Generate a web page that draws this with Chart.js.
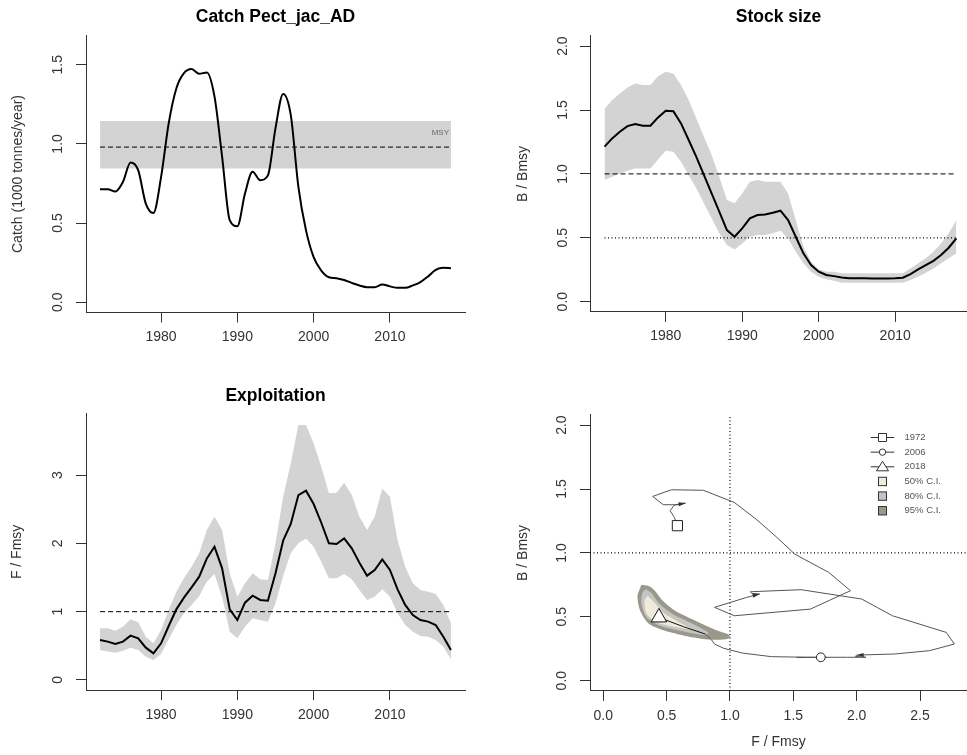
<!DOCTYPE html>
<html><head><meta charset="utf-8">
<script src="https://cdn.jsdelivr.net/npm/chart.js@4.4.1/dist/chart.umd.min.js"></script>
<style>
html,body{margin:0;padding:0;background:#fff;}
#wrap{position:relative;width:967px;height:755px;overflow:hidden;background:#fff;}
canvas{position:absolute;left:0;top:0;}
</style></head><body>
<div id="wrap">
<canvas id="c1" width="967" height="755"></canvas>
<canvas id="c2" width="967" height="755"></canvas>
<canvas id="c3" width="967" height="755"></canvas>
<canvas id="c4" width="967" height="755"></canvas>
</div>
<script>
// ---------------- data ----------------
const years = [1972,1973,1974,1975,1976,1977,1978,1979,1980,1981,
  1982,1983,1984,1985,1986,1987,1988,1989,1990,1991,
  1992,1993,1994,1995,1996,1997,1998,1999,2000,2001,
  2002,2003,2004,2005,2006,2007,2008,2009,2010,2011,
  2012,2013,2014,2015,2016,2017,2018];

const catchVals = [0.714,0.714,0.70,0.76,0.883,0.835,0.623,0.564,0.79,1.13,
  1.35,1.447,1.473,1.443,1.452,1.30,0.92,0.518,0.48,0.687,
  0.824,0.771,0.80,1.10,1.316,1.183,0.729,0.454,0.285,0.20,
  0.158,0.152,0.14,0.122,0.106,0.095,0.095,0.112,0.10,0.091,
  0.091,0.106,0.127,0.163,0.205,0.218,0.215];
const msyVal = 0.98, msyLow = 0.845, msyHigh = 1.145;
const msyYears = [1972, 2018];

const stockVals = [1.213,1.278,1.33,1.374,1.39,1.377,1.377,1.442,1.494,1.49,
  1.395,1.265,1.134,0.99,0.847,0.704,0.56,0.508,0.574,0.652,
  0.678,0.683,0.696,0.712,0.639,0.508,0.378,0.287,0.235,0.209,
  0.20,0.19,0.183,0.183,0.183,0.182,0.182,0.182,0.183,0.188,
  0.216,0.253,0.287,0.32,0.365,0.422,0.495];
const stockHigh = [1.51,1.578,1.63,1.677,1.708,1.695,1.695,1.765,1.80,1.786,
  1.695,1.578,1.434,1.29,1.147,0.978,0.795,0.77,0.847,0.939,
  0.952,0.939,0.939,0.939,0.847,0.639,0.43,0.313,0.253,0.235,
  0.235,0.222,0.222,0.222,0.222,0.222,0.222,0.222,0.222,0.222,
  0.26,0.30,0.339,0.39,0.456,0.535,0.639];
const stockLow = [0.952,0.978,1.004,1.025,1.043,1.043,1.043,1.113,1.181,1.173,
  1.095,0.99,0.887,0.769,0.652,0.535,0.443,0.409,0.456,0.508,
  0.521,0.521,0.535,0.555,0.495,0.391,0.30,0.235,0.196,0.175,
  0.164,0.149,0.149,0.149,0.149,0.149,0.149,0.149,0.149,0.149,
  0.17,0.196,0.227,0.26,0.30,0.339,0.378];

const fVals = [0.585,0.561,0.527,0.561,0.649,0.61,0.473,0.39,0.537,0.79,
  1.034,1.205,1.356,1.512,1.78,1.951,1.634,1.034,0.878,1.132,
  1.234,1.171,1.161,1.561,2.039,2.283,2.707,2.771,2.576,2.302,
  2.0,1.99,2.073,1.927,1.717,1.527,1.61,1.766,1.61,1.327,
  1.098,0.951,0.878,0.854,0.805,0.634,0.439];
const fHigh = [0.756,0.756,0.722,0.78,0.888,0.844,0.634,0.537,0.732,1.024,
  1.293,1.488,1.659,1.854,2.195,2.39,2.195,1.561,1.22,1.415,
  1.561,1.473,1.463,2.0,2.683,3.17,3.732,3.732,3.463,3.122,
  2.732,2.741,2.888,2.707,2.39,2.195,2.39,2.805,2.683,2.049,
  1.659,1.415,1.317,1.293,1.259,1.098,0.829];
const fLow = [0.439,0.415,0.4,0.429,0.473,0.439,0.341,0.293,0.38,0.595,
  0.805,0.976,1.098,1.229,1.439,1.551,1.22,0.707,0.61,0.78,
  0.902,0.878,0.854,1.122,1.522,1.854,2.0,2.073,1.951,1.732,
  1.488,1.488,1.551,1.473,1.317,1.171,1.22,1.327,1.22,0.976,
  0.805,0.707,0.644,0.634,0.585,0.488,0.302];

// Kobe plot confidence regions around the last year (F/Fmsy, B/Bmsy)
const ci95F = [0.30,0.36,0.41,0.47,0.57,0.73,0.90,0.99,1.0,0.97,0.82,0.66,0.48,0.36,0.29,0.27,0.30];
const ci95B = [0.75,0.74,0.70,0.625,0.545,0.468,0.392,0.36,0.34,0.325,0.322,0.347,0.392,0.445,0.55,0.66,0.75];
const ci80F = [0.335,0.38,0.445,0.55,0.685,0.83,0.80,0.61,0.45,0.34,0.30,0.31,0.335];
const ci80B = [0.715,0.685,0.60,0.52,0.455,0.375,0.355,0.39,0.43,0.497,0.605,0.69,0.715];
const ci50F = [0.35,0.40,0.47,0.58,0.69,0.56,0.42,0.34,0.325,0.35];
const ci50B = [0.665,0.615,0.535,0.468,0.405,0.422,0.46,0.525,0.63,0.665];

const yearTicks = [1980,1990,2000,2010];
const catchTicks = [0,0.5,1,1.5];
const bTicks = [0,0.5,1,1.5,2];
const fTicks = [0,1,2,3];
const kobeFTicks = [0,0.5,1,1.5,2,2.5];
const markerIdx = [0, 34, 46];           // 1972, 2006, 2018
const arrowIdx = [4, 20, 30];
const legendLabels = ['1972','2006','2018','50% C.I.','80% C.I.','95% C.I.'];

// ---------------- style ----------------
const FONT = '"Liberation Sans", Arial, sans-serif';
const AX = '#333';
const TXT = '#333';
const BAND = '#d3d3d3';
const C95 = '#9a988a', C80 = '#c4c4c4', C50 = '#efebd8';
Chart.defaults.font.family = FONT;
Chart.defaults.animation = false;

const pts = (xs, ys) => xs.map((x, i) => ({x: x, y: ys[i]}));
const const2 = (xs, v) => xs.map(x => ({x: x, y: v}));

function scale(o) {
  return {
    type: 'linear', min: o.min, max: o.max,
    border: {display: true, color: AX, width: 1},
    grid: {display: true, drawOnChartArea: false, drawTicks: true, tickLength: 10,
           color: AX, tickColor: AX, lineWidth: 1, tickWidth: 1},
    ticks: {font: {family: FONT, size: 14}, color: TXT, padding: o.pad, autoSkip: false,
            minRotation: o.rot || 0, maxRotation: o.rot || 0, crossAlign: 'center',
            callback: o.fmt},
    afterBuildTicks: (sc) => { sc.ticks = o.ticks.map(v => ({value: v})); },
    afterFit: (sc) => { if (o.w !== undefined) sc.width = o.w; if (o.h !== undefined) sc.height = o.h; },
    title: o.title ? {display: true, text: o.title, color: TXT,
      font: {family: FONT, size: 14}, padding: o.titlePad} : {display: false}
  };
}
const f1 = v => v.toFixed(1);
const f0 = v => String(v);

function titlePlugin(text, y) {
  return {id: 'ttl', afterDraw(chart) {
    const ctx = chart.ctx, ca = chart.chartArea;
    ctx.save();
    ctx.font = 'bold 17.5px ' + FONT;
    ctx.fillStyle = '#000';
    ctx.textAlign = 'center'; ctx.textBaseline = 'middle';
    ctx.fillText(text, (ca.left + ca.right) / 2, y);
    ctx.restore();
  }};
}

function lineDs(data, extra) {
  return Object.assign({data: data, borderColor: '#000', borderWidth: 1, pointRadius: 0,
    fill: false, tension: 0}, extra || {});
}

function baseOpts(pad, xs, ys) {
  return {
    responsive: false, devicePixelRatio: 1, animation: false,
    layout: {padding: pad, autoPadding: false},
    plugins: {legend: {display: false}, tooltip: {enabled: false}, title: {display: false}},
    scales: {x: xs, y: ys},
    events: []
  };
}

// ---------------- Panel 1: Catch ----------------
new Chart(document.getElementById('c1'), {
  type: 'line',
  data: {datasets: [
    lineDs(pts(years, catchVals), {borderWidth: 2, cubicInterpolationMode: 'monotone'}),
    lineDs(const2(msyYears, msyVal), {borderDash: [5, 3]}),
    lineDs(const2(msyYears, msyHigh), {borderWidth: 0, fill: '+1', backgroundColor: BAND}),
    lineDs(const2(msyYears, msyLow), {borderWidth: 0})
  ]},
  options: baseOpts({left: 0, top: 35.5, right: 502, bottom: 0},
    scale({min: 1970.16, max: 2019.84, ticks: yearTicks, fmt: f0, pad: 14.5, h: 755 - 312.5}),
    scale({min: -0.065, max: 1.685, ticks: catchTicks, fmt: f1, pad: 8.5, rot: 90, w: 86,
           title: 'Catch (1000 tonnes/year)', titlePad: {top: 9.6, bottom: 0}})),
  plugins: [titlePlugin('Catch Pect_jac_AD', 17.1), {id: 'msy', afterDraw(chart) {
    const ctx = chart.ctx, xs = chart.scales.x, ys = chart.scales.y;
    ctx.save();
    ctx.font = '8px ' + FONT; ctx.fillStyle = '#666';
    ctx.textAlign = 'right'; ctx.textBaseline = 'middle';
    ctx.fillText('MSY', xs.getPixelForValue(2018) - 2, ys.getPixelForValue(1.07));
    ctx.restore();
  }}]
});

// ---------------- Panel 2: Stock size ----------------
new Chart(document.getElementById('c2'), {
  type: 'line',
  data: {datasets: [
    lineDs(pts(years, stockVals), {borderWidth: 2}),
    lineDs(const2(msyYears, 1), {borderDash: [5, 3]}),
    lineDs(const2(msyYears, 0.5), {borderDash: [1, 2.5], borderWidth: 1.2}),
    lineDs(pts(years, stockHigh), {borderWidth: 0, fill: '+1', backgroundColor: BAND}),
    lineDs(pts(years, stockLow), {borderWidth: 0})
  ]},
  options: baseOpts({left: 483, top: 35.9, right: 0, bottom: 0},
    scale({min: 1970.1, max: 2019.39, ticks: yearTicks, fmt: f0, pad: 14.5, h: 755 - 311.9}),
    scale({min: -0.08, max: 2.08, ticks: bTicks, fmt: f1, pad: 7.5, rot: 90, w: 107,
           title: 'B / Bmsy', titlePad: {top: 31.3, bottom: 0}})),
  plugins: [titlePlugin('Stock size', 17.1)]
});

// ---------------- Panel 3: Exploitation ----------------
new Chart(document.getElementById('c3'), {
  type: 'line',
  data: {datasets: [
    lineDs(pts(years, fVals), {borderWidth: 2}),
    lineDs(const2(msyYears, 1), {borderDash: [5, 3]}),
    lineDs(pts(years, fHigh), {borderWidth: 0, fill: '+1', backgroundColor: BAND}),
    lineDs(pts(years, fLow), {borderWidth: 0})
  ]},
  options: baseOpts({left: 0, top: 413.6, right: 502, bottom: 0},
    scale({min: 1970.16, max: 2019.84, ticks: yearTicks, fmt: f0, pad: 15, h: 755 - 690.2}),
    scale({min: -0.15, max: 3.9, ticks: fTicks, fmt: f0, pad: 13.5, rot: 90, w: 86,
           title: 'F / Fmsy', titlePad: {top: 9.1, bottom: 0}})),
  plugins: [titlePlugin('Exploitation', 395.8)]
});

// ---------------- Panel 4: Kobe ----------------
const kobePts = pts(fVals, stockVals);
new Chart(document.getElementById('c4'), {
  type: 'line',
  data: {datasets: [
    lineDs([kobePts[markerIdx[0]]], {showLine: false, pointStyle: 'rect', pointRadius: 7.2,
      pointBackgroundColor: '#fff', pointBorderColor: '#222', pointBorderWidth: 1}),
    lineDs([kobePts[markerIdx[1]]], {showLine: false, pointStyle: 'circle', pointRadius: 4.4,
      pointBackgroundColor: '#fff', pointBorderColor: '#222', pointBorderWidth: 1}),
    lineDs([kobePts[markerIdx[2]]], {showLine: false, pointStyle: 'triangle', pointRadius: 9,
      pointBackgroundColor: '#fff', pointBorderColor: '#111', pointBorderWidth: 1}),
    lineDs(kobePts, {borderWidth: 1, borderColor: '#555',
      segment: {borderColor: c => c.p0DataIndex >= 44 ? '#111' : '#555'}}),
    lineDs(pts([1, 1], [-0.08, 2.08]), {borderDash: [1, 2.5], borderWidth: 1.2}),
    lineDs(pts([-0.105, 2.871], [1, 1]), {borderDash: [1, 2.5], borderWidth: 1.2}),
    lineDs(pts(ci50F, ci50B), {borderWidth: 0, fill: 'shape', backgroundColor: C50, tension: 0.25}),
    lineDs(pts(ci80F, ci80B), {borderWidth: 0, fill: 'shape', backgroundColor: C80, tension: 0.25}),
    lineDs(pts(ci95F, ci95B), {borderWidth: 0, fill: 'shape', backgroundColor: C95, tension: 0.25})
  ]},
  options: baseOpts({left: 483, top: 414.9, right: 0, bottom: 0},
    scale({min: -0.105, max: 2.871, ticks: kobeFTicks, fmt: f1, pad: 14.8, h: 755 - 690.9,
           title: 'F / Fmsy', titlePad: {top: 0, bottom: 4.9}}),
    scale({min: -0.08, max: 2.08, ticks: bTicks, fmt: f1, pad: 8.3, rot: 90, w: 107,
           title: 'B / Bmsy', titlePad: {top: 31.3, bottom: 0}})),
  plugins: [{id: 'kobeExtras', afterDatasetsDraw(chart) {
    const ctx = chart.ctx, xs = chart.scales.x, ys = chart.scales.y;
    ctx.save();
    arrowIdx.forEach(i => {
      const x1 = xs.getPixelForValue(fVals[i - 1]), y1 = ys.getPixelForValue(stockVals[i - 1]);
      const x2 = xs.getPixelForValue(fVals[i]), y2 = ys.getPixelForValue(stockVals[i]);
      const a = Math.atan2(y2 - y1, x2 - x1);
      ctx.fillStyle = '#333';
      ctx.beginPath();
      ctx.moveTo(x2, y2);
      ctx.lineTo(x2 - 7 * Math.cos(a) + 2 * Math.sin(a), y2 - 7 * Math.sin(a) - 2 * Math.cos(a));
      ctx.lineTo(x2 - 7 * Math.cos(a) - 2 * Math.sin(a), y2 - 7 * Math.sin(a) + 2 * Math.cos(a));
      ctx.closePath(); ctx.fill();
    });
    ctx.restore();
  }, afterDraw(chart) {
    const ctx = chart.ctx;
    ctx.save();
    const sx = 882.5, x0 = 870.7, x1 = 894.3, tx = 904.5, y0 = 437.5, dy = 14.65;
    ctx.font = '9.5px ' + FONT; ctx.textBaseline = 'middle'; ctx.textAlign = 'left';
    legendLabels.forEach((lab, k) => {
      const y = y0 + k * dy;
      ctx.lineWidth = 1; ctx.strokeStyle = '#333';
      if (k < 3) {
        ctx.beginPath(); ctx.moveTo(x0, y); ctx.lineTo(x1, y); ctx.stroke();
        ctx.fillStyle = '#fff';
        ctx.beginPath();
        if (k === 0) ctx.rect(sx - 4, y - 4, 8, 8);
        else if (k === 1) ctx.arc(sx, y, 3.2, 0, Math.PI * 2);
        else { ctx.moveTo(sx, y - 5.5); ctx.lineTo(sx + 6, y + 4); ctx.lineTo(sx - 6, y + 4); ctx.closePath(); }
        ctx.fill(); ctx.stroke();
      } else {
        ctx.fillStyle = [C50, C80, C95][k - 3];
        ctx.fillRect(sx - 4, y - 4.2, 8, 8.4);
        ctx.strokeRect(sx - 4, y - 4.2, 8, 8.4);
      }
      ctx.fillStyle = '#555';
      ctx.fillText(lab, tx, y);
    });
    ctx.restore();
  }}]
});
</script>
</body></html>
